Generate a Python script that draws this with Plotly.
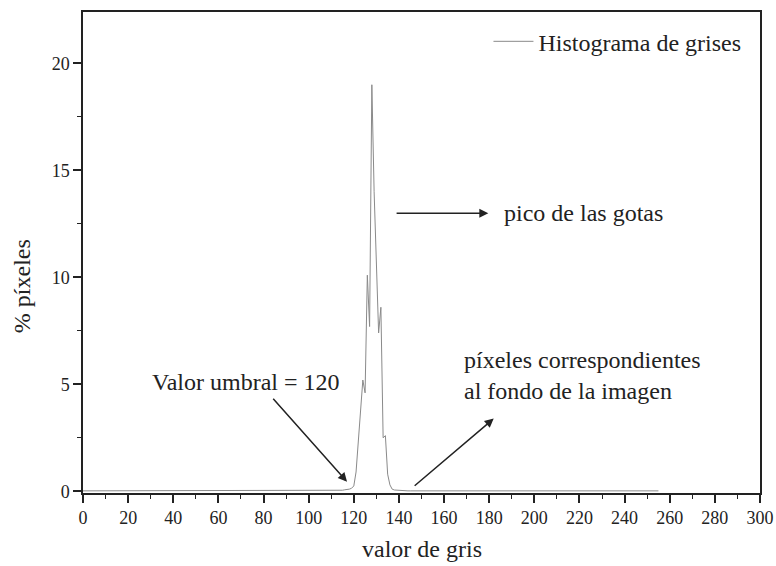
import plotly.graph_objects as go

# Histogram of gray levels (0..255), % of pixels
gray = list(range(0, 256))
base = [0.02] * 256
for g in range(70, 116):
    base[g] = 0.05
peak = {
    116: 0.07, 117: 0.08, 118: 0.1, 119: 0.14, 120: 0.25, 121: 0.9, 122: 2.3,
    123: 3.9, 124: 5.2, 125: 4.6, 126: 10.1, 127: 7.7, 128: 19.0, 129: 14.0,
    130: 10.5, 131: 7.4, 132: 8.6, 133: 2.5, 134: 2.6, 135: 0.8, 136: 0.3,
    137: 0.1, 138: 0.06, 139: 0.05, 140: 0.04,
}
pct = [peak.get(g, base[g]) for g in gray]

x_ticks = list(range(0, 301, 20))
y_ticks = [0, 5, 10, 15, 20]

FONT = "Liberation Serif"
TXT = "#222222"

fig = go.Figure()
fig.add_trace(go.Scatter(
    x=gray, y=pct, mode="lines", name="Histograma de grises",
    line=dict(color="#8a8a8a", width=1),
))

fig.update_layout(
    width=776, height=566,
    margin=dict(l=83, r=16, t=12, b=73),
    paper_bgcolor="white", plot_bgcolor="white",
    font=dict(family=FONT, color=TXT, size=18),
    showlegend=True,
    legend=dict(x=0.98, y=0.985, xanchor="right", yanchor="top",
                bgcolor="rgba(0,0,0,0)", font=dict(size=24, family=FONT, color=TXT),
                itemwidth=40),
)

fig.update_xaxes(
    range=[0, 300], tickvals=x_ticks, ticks="outside", ticklen=8, tickwidth=1.5,
    tickcolor="#222", showline=True, linecolor="#222", linewidth=1.5, mirror=True,
    showgrid=False, zeroline=False, automargin=False,
    minor=dict(dtick=10, ticks="outside", ticklen=4, tickcolor="#222", tickwidth=1.2),
    tickfont=dict(size=18, family=FONT, color=TXT),
)
fig.update_yaxes(
    range=[-0.08, 22.4], tickvals=y_ticks, ticks="outside", ticklen=8, tickwidth=1.5,
    tickcolor="#222", showline=True, linecolor="#222", linewidth=1.5, mirror=True,
    showgrid=False, zeroline=False, automargin=False,
    minor=dict(dtick=2.5, ticks="outside", ticklen=4, tickcolor="#222", tickwidth=1.2),
    tickfont=dict(size=18, family=FONT, color=TXT),
)

# Axis titles as annotations (precise placement)
fig.add_annotation(x=0.5, y=0, xref="paper", yref="paper", yshift=-56,
                   text="valor de gris", showarrow=False, yanchor="middle",
                   font=dict(size=24, family=FONT, color=TXT))
fig.add_annotation(x=0, y=0.43, xref="paper", yref="paper", xshift=-61,
                   text="% píxeles", showarrow=False, textangle=-90,
                   xanchor="center", yanchor="middle",
                   font=dict(size=24, family=FONT, color=TXT))

# Arrows
arrows = [
    # (head_x, head_y, tail_x, tail_y)
    (179.6, 13.0, 138.3, 13.0),
    (117.0, 0.45, 83.7, 4.4),
    (182.0, 3.4, 146.3, 0.2),
]
for hx, hy, tx, ty in arrows:
    fig.add_annotation(
        x=hx, y=hy, ax=tx, ay=ty, xref="x", yref="y", axref="x", ayref="y",
        showarrow=True, arrowhead=2, arrowsize=1.2, arrowwidth=1.5,
        arrowcolor="#222", text="",
    )

fig.add_annotation(x=185.5, y=13.0, xref="x", yref="y", text="pico de las gotas",
                   showarrow=False, xanchor="left", yanchor="middle",
                   font=dict(size=24, family=FONT, color=TXT))
fig.add_annotation(x=29.5, y=5.1, xref="x", yref="y", text="Valor umbral = 120",
                   showarrow=False, xanchor="left", yanchor="middle",
                   font=dict(size=24, family=FONT, color=TXT))
fig.add_annotation(x=168.0, y=5.4, xref="x", yref="y",
                   text="píxeles correspondientes<br>al fondo de la imagen",
                   showarrow=False, xanchor="left", yanchor="middle", align="left",
                   font=dict(size=24, family=FONT, color=TXT))

fig.write_html("out.html")
